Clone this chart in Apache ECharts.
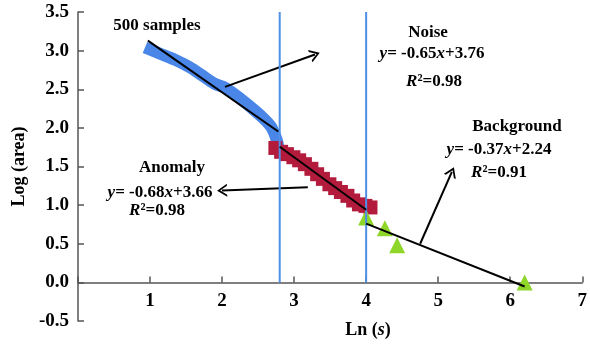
<!DOCTYPE html>
<html>
<head>
<meta charset="utf-8">
<script src="https://cdn.jsdelivr.net/npm/echarts@6/dist/echarts.min.js"></script>
<style>
html, body { margin: 0; padding: 0; background: #fff; }
#chart { width: 590px; height: 349px; }
</style>
</head>
<body>
<div id="chart"></div>
<script>
// values
var noisePts = [[0.93, 3.04], [1.14, 2.96], [1.35, 2.88], [1.56, 2.78], [1.72, 2.68], [1.90, 2.57],
    [2.04, 2.52], [2.25, 2.38], [2.46, 2.22], [2.60, 2.10], [2.69, 2.00], [2.76, 1.84], [2.79, 1.70]];
var anomalyPts = [[2.74, 1.74], [2.82, 1.69], [2.90, 1.66], [2.99, 1.62], [3.07, 1.58], [3.15, 1.53],
    [3.24, 1.47], [3.32, 1.40], [3.40, 1.34], [3.49, 1.27], [3.57, 1.22], [3.65, 1.17], [3.74, 1.12],
    [3.82, 1.06], [3.90, 1.01], [3.99, 0.99], [4.06, 0.97]];
var backgroundPts = [[4.0, 0.84], [4.26, 0.70], [4.43, 0.48], [6.2, 0.0]];
var splitX = [2.8, 4.0];
// fit lines: slope, intercept, x start, x end
var fitNoise = [-0.65, 3.76, 0.97, 2.78];
var fitAnomaly = [-0.68, 3.66, 2.8, 4.0];
var fitBackground = [-0.37, 2.24, 4.0, 6.2];
// arrows: from, to (data coords)
var arrowNoise = [[2.04, 2.53], [3.29, 2.95]];
var arrowAnomaly = [[3.19, 1.23], [2.0, 1.19]];
var arrowBackground = [[4.75, 0.50], [5.19, 1.43]];

var serif = '"Liberation Serif", "DejaVu Serif", serif';
var chart = echarts.init(document.getElementById('chart'));

function fitLine(f) {
    return [[f[2], f[0] * f[2] + f[1]], [f[3], f[0] * f[3] + f[1]]];
}
function fitSeries(f) {
    return {
        type: 'line', data: fitLine(f), symbol: 'none', z: 10, silent: true,
        lineStyle: { color: '#000', width: 2 }
    };
}
function arrow(a) {
    return [{ coord: a[0] }, { coord: a[1] }];
}
function label(x, y, text) {
    return {
        type: 'text', x: x, y: y, z: 20,
        style: {
            text: text, fill: '#000', font: 'bold 17px ' + serif,
            textAlign: 'center', textVerticalAlign: 'middle',
            rich: { i: { fontStyle: 'italic', fontWeight: 'bold', fontSize: 17, fontFamily: serif } }
        }
    };
}

var option = {
    animation: false,
    grid: { left: 78, right: 7, top: 12, bottom: 28 },
    xAxis: {
        type: 'value', min: 0, max: 7, interval: 1,
        offset: -38.6,
        axisLine: { onZero: false, lineStyle: { color: '#555', width: 1.5 } },
        axisTick: { inside: true, length: 6, lineStyle: { color: '#555', width: 1.5 } },
        splitLine: { show: false },
        axisLabel: {
            color: '#000', fontSize: 19, fontWeight: 'bold', fontFamily: serif, margin: 9,
            formatter: function (v) { return v === 0 ? '' : v; }
        }
    },
    yAxis: {
        type: 'value', min: -0.5, max: 3.5, interval: 0.5,
        name: 'Log (area)', nameLocation: 'middle', nameGap: 50,
        nameTextStyle: { color: '#000', fontSize: 18, fontWeight: 'bold', fontFamily: serif },
        axisLine: { show: true, lineStyle: { color: '#555', width: 1.5 } },
        axisTick: { show: true, inside: true, length: 6, lineStyle: { color: '#555', width: 1.5 } },
        splitLine: { show: false },
        axisLabel: {
            color: '#000', fontSize: 19, fontWeight: 'bold', fontFamily: serif, margin: 9,
            formatter: function (v) { return v.toFixed(1); }
        }
    },
    series: [
        {
            type: 'line', data: noisePts, symbol: 'none', smooth: 0.3, z: 2,
            lineStyle: { color: '#4a86e8', width: 12, cap: 'butt' }
        },
        {
            type: 'scatter', data: anomalyPts, symbol: 'rect', symbolSize: 14, z: 3,
            itemStyle: { color: '#b31b3c', opacity: 1 }
        },
        {
            type: 'scatter', data: backgroundPts, symbol: 'triangle', symbolSize: 16, z: 4,
            itemStyle: { color: '#8fd62a', opacity: 1 }
        },
        {
            type: 'line', data: [[splitX[0], 0], [splitX[0], 3.5]], symbol: 'none', z: 5,
            lineStyle: { color: '#4f8fe6', width: 2 }
        },
        {
            type: 'line', data: [[splitX[1], 0], [splitX[1], 3.5]], symbol: 'none', z: 5,
            lineStyle: { color: '#4f8fe6', width: 2 }
        },
        fitSeries(fitNoise),
        fitSeries(fitAnomaly),
        fitSeries(fitBackground),
        {
            type: 'line', data: [], z: 11,
            markLine: {
                silent: true, animation: false,
                symbol: ['none', 'path://M0,10 L5,0 L10,10 L8.4,10 L5,3.2 L1.6,10 Z'],
                symbolSize: [13, 10],
                label: { show: false },
                lineStyle: { color: '#000', width: 2, type: 'solid' },
                data: [arrow(arrowNoise), arrow(arrowAnomaly), arrow(arrowBackground)]
            }
        }
    ],
    graphic: [
        label(157, 26, '500 samples'),
        label(428, 33, 'Noise'),
        label(432, 54, '{i|y}= -0.65{i|x}+3.76'),
        label(434, 82, '{i|R}²=0.98'),
        label(517, 127, 'Background'),
        label(499, 150, '{i|y}= -0.37{i|x}+2.24'),
        label(499, 173, '{i|R}²=0.91'),
        label(172, 168, 'Anomaly'),
        label(160, 193, '{i|y}= -0.68{i|x}+3.66'),
        label(157, 211, '{i|R}²=0.98'),
        {
            type: 'text', x: 368, y: 330, z: 20,
            style: {
                text: 'Ln ({i|s})', fill: '#000', font: 'bold 18px ' + serif,
                textAlign: 'center', textVerticalAlign: 'middle',
                rich: { i: { fontStyle: 'italic', fontWeight: 'bold', fontSize: 18, fontFamily: serif } }
            }
        }
    ]
};
chart.setOption(option);
</script>
</body>
</html>
